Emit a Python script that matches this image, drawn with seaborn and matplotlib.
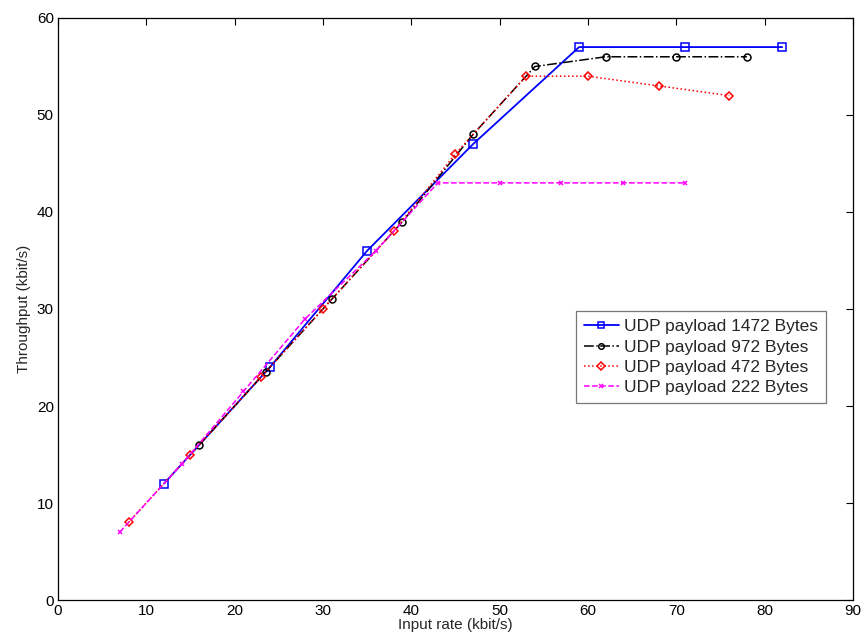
import matplotlib
matplotlib.use("Agg")
import matplotlib.pyplot as plt
import seaborn as sns
import pandas as pd

sns.set_theme(style="white")
plt.rcParams['font.family'] = ['Liberation Sans', 'DejaVu Sans']

x_1472 = [12, 24, 35, 47, 59, 71, 82]
y_1472 = [12, 24, 36, 47, 57, 57, 57]
x_972 = [16, 23.5, 31, 39, 47, 54, 62, 70, 78]
y_972 = [16, 23.5, 31, 39, 48, 55, 56, 56, 56]
x_472 = [8, 15, 23, 30, 38, 45, 53, 60, 68, 76]
y_472 = [8, 15, 23, 30, 38, 46, 54, 54, 53, 52]
x_222 = [7, 14, 21, 28, 36, 43, 50, 57, 64, 71]
y_222 = [7, 14, 21.5, 29, 36, 43, 43, 43, 43, 43]

labels = ["UDP payload 1472 Bytes", "UDP payload 972 Bytes",
          "UDP payload 472 Bytes", "UDP payload 222 Bytes"]

fig = plt.figure(figsize=(8.65, 6.42), dpi=100)
ax = fig.add_axes([0.067, 0.0654, 0.919, 0.9066])

series = [
    (x_1472, y_1472, labels[0], dict(color='#0000ff', linestyle='-', marker='s', markersize=6, linewidth=1.3)),
    (x_972, y_972, labels[1], dict(color='black', linestyle='-.', marker='o', markersize=5, linewidth=1.1)),
    (x_472, y_472, labels[2], dict(color='#ff0000', linestyle=':', marker='D', markersize=4.5, linewidth=1.1)),
    (x_222, y_222, labels[3], dict(color='#ff00ff', linestyle='--', marker='x', markersize=3.5, linewidth=1.1)),
]
for xs, ys, lab, st in series:
    df = pd.DataFrame({"x": xs, "y": ys})
    sns.lineplot(data=df, x="x", y="y", ax=ax, sort=False, label=lab,
                 markerfacecolor='none', markeredgecolor=st['color'],
                 markeredgewidth=1.1, **st)

ax.set_xlim(0, 90)
ax.set_ylim(0, 60)
ax.set_xticks(range(0, 91, 10))
ax.set_yticks(range(0, 61, 10))
ax.set_xlabel("Input rate (kbit/s)", fontsize=11, labelpad=0)
ax.set_ylabel("Throughput (kbit/s)", fontsize=11, labelpad=4)
ax.tick_params(direction='in', top=True, right=True, length=5, width=0.8,
               labelsize=11, colors='black', pad=3)
for s in ax.spines.values():
    s.set_color('black')
    s.set_linewidth(0.9)

leg = ax.legend(loc='lower right', bbox_to_anchor=(0.966, 0.338), fontsize=12.5,
                frameon=True, fancybox=False, edgecolor='#555555',
                borderpad=0.45, labelspacing=0.3, handlelength=2.0, handletextpad=0.3,
                borderaxespad=0, markerscale=0.8)
leg.get_frame().set_linewidth(0.9)

fig.savefig("out.png", dpi=100)
